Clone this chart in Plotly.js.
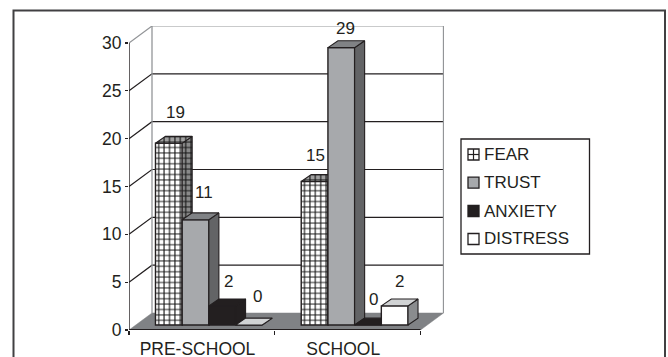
<!DOCTYPE html>
<html>
<head>
<meta charset="utf-8">
<script src="https://cdn.plot.ly/plotly-3.0.1.min.js"></script>
<style>html,body{margin:0;padding:0;background:#fff;overflow:hidden}</style>
</head>
<body>
<div id="chart" style="width:668px;height:357px"></div>
<script>
// Chart data
const categories = ["PRE-SCHOOL", "SCHOOL"];
const seriesNames = ["FEAR", "TRUST", "ANXIETY", "DISTRESS"];
const fear = [19, 15];
const trust = [11, 29];
const anxiety = [2, 0];
const distress = [0, 2];
const yTicks = [0, 5, 10, 15, 20, 25, 30];

// Label nudges in screen pixels, one row per series
const labelShiftX = [[7, 1], [8, 4], [6, 6], [9, 5]];
const labelShiftY = [[31, 26], [27, 19], [24, 26], [29, 24]];

// Look of each series: front, top and side faces
const looks = [
  {front: "#ffffff", top: "#a0a0a0", side: "#8a8a8a", pattern: true},
  {front: "#a7a9ac", top: "#808285", side: "#636466"},
  {front: "#231f20", top: "#231f20", side: "#231f20"},
  {front: "#ffffff", top: "#d1d3d4", side: "#8a8c8e"}
];
const ink = "#231f20";
const wallGrey = "#939598";
const floorGrey = "#808285";

// Scales: the chart is a box seen from the front-left
const pxPerCat = 145.75, pxPerUnit = 9.567;
const plot = {l: 129, r: 224, t: 26, b: 27};
const plotW = 668 - plot.l - plot.r, plotH = 357 - plot.t - plot.b;
const xRange = [-0.5, -0.5 + plotW / pxPerCat];
const yRange = [0, plotH / pxPerUnit];

const wallDx = 23 / pxPerCat, wallDy = 17 / pxPerUnit;   // depth of the floor
const barDx = 10 / pxPerCat, barDy = 6.9 / pxPerUnit;    // depth of a bar
const barLift = 0.52;                                    // bars stand in from the front edge
const barW = 26.7 / pxPerCat;
const groupStart = -46.4 / pxPerCat;

const traces = [];
const xEnd = 1.5, xStart = -0.5, yMax = yTicks[yTicks.length - 1];

function poly(xs, ys, color, width, fill, extra) {
  return Object.assign({
    type: "scatter", mode: "lines", x: xs, y: ys, xaxis: "x", yaxis: "y",
    line: {color: color, width: width}, fill: fill ? "toself" : "none", fillcolor: fill || undefined,
    hoverinfo: "skip", showlegend: false, cliponaxis: false
  }, extra || {});
}

// Floor
traces.push(poly(
  [xStart, xEnd, xEnd + wallDx, xStart + wallDx, xStart],
  [0, 0, wallDy, wallDy, 0], floorGrey, 0.5, floorGrey));

// Grid lines running along the side wall and then the back wall
yTicks.slice(1).forEach(v => {
  const c = v === yMax ? wallGrey : ink;
  traces.push(poly(
    [xStart, xStart + wallDx, xEnd + wallDx],
    [v, v + wallDy, v + wallDy], c, 1.2));
});

// Wall corners
[xStart + wallDx, xEnd + wallDx].forEach(x => {
  traces.push(poly([x, x], [wallDy, yMax + wallDy], wallGrey, 1.3));
});

// Front edges of the box
traces.push(poly([xStart, xStart], [0, yMax], ink, 1.4));
traces.push(poly([xStart, xEnd], [0, 0], ink, 2));

// One overlaid pair of axes per series keeps the nearer bars on top
const grid = bg => ({shape: "+", size: 5.4, solidity: 0.36, fgcolor: "#111111", bgcolor: bg, fillmode: "replace"});
[fear, trust, anxiety, distress].forEach((values, s) => {
  const look = looks[s];
  const ax = String(s + 2);
  const left = groupStart + s * barW;
  const bar = {
    type: "bar", name: seriesNames[s], x: [0, 1], y: values, base: barLift,
    width: barW, offset: left, xaxis: "x" + ax, yaxis: "y" + ax,
    showlegend: false, hoverinfo: "x+y",
    marker: {color: look.front, line: {color: ink, width: 1.4}}
  };
  if (look.pattern) bar.marker.pattern = grid("#ffffff");
  traces.push(bar);

  const topX = [], topY = [], sideX = [], sideY = [];
  values.forEach((v, c) => {
    const x0 = c + left, x1 = x0 + barW, y1 = v + barLift;
    topX.push(x0, x1, x1 + barDx, x0 + barDx, x0, null);
    topY.push(y1, y1, y1 + barDy, y1 + barDy, y1, null);
    sideX.push(x1, x1 + barDx, x1 + barDx, x1, x1, null);
    sideY.push(barLift, barLift + barDy, y1 + barDy, y1, barLift, null);
  });
  const sideExtra = {xaxis: "x" + ax, yaxis: "y" + ax};
  const topExtra = {xaxis: "x" + ax, yaxis: "y" + ax};
  if (look.pattern) {
    sideExtra.fillpattern = grid(look.side);
    topExtra.fillpattern = grid(look.top);
  }
  traces.push(poly(sideX, sideY, ink, 1.1, look.side, sideExtra));
  traces.push(poly(topX, topY, ink, 1.1, look.top, topExtra));
});

// Value labels
const annotations = [];
const labelFont = {family: "Liberation Sans, Arial, sans-serif", size: 17, color: ink};
[fear, trust, anxiety, distress].forEach((values, s) => {
  values.forEach((v, c) => {
    annotations.push({
      x: c + groupStart + s * barW + barW / 2, y: v + barLift, xref: "x", yref: "y",
      text: String(v), showarrow: false, xanchor: "center", yanchor: "middle",
      xshift: labelShiftX[s][c], yshift: labelShiftY[s][c], font: labelFont
    });
  });
});

// Key on the right, placed in page pixels
const px = x => (x - plot.l) / plotW;
const py = y => (plot.t + plotH - y) / plotH;
const shapes = [
  {type: "rect", xref: "paper", yref: "paper", x0: px(13.5), x1: px(665), y0: py(10.5), y1: py(370),
   line: {color: "#414042", width: 2}, fillcolor: "rgba(0,0,0,0)", layer: "below"},
  {type: "rect", xref: "paper", yref: "paper", x0: px(461), x1: px(589.5), y0: py(139), y1: py(254),
   line: {color: ink, width: 1.3}, fillcolor: "#ffffff", layer: "above"}
];
const keyRows = [154.5, 182.7, 211, 239];
seriesNames.forEach((name, s) => {
  const yc = keyRows[s];
  shapes.push({type: "rect", xref: "paper", yref: "paper", x0: px(468), x1: px(479), y0: py(yc + 5.5), y1: py(yc - 5.5),
    line: {color: ink, width: 1.3}, fillcolor: looks[s].front, layer: "above"});
  if (looks[s].pattern) {
    shapes.push({type: "line", xref: "paper", yref: "paper", x0: px(473.5), x1: px(473.5), y0: py(yc + 5.5), y1: py(yc - 5.5), line: {color: ink, width: 1.2}, layer: "above"});
    shapes.push({type: "line", xref: "paper", yref: "paper", x0: px(468), x1: px(479), y0: py(yc), y1: py(yc), line: {color: ink, width: 1.2}, layer: "above"});
  }
  annotations.push({xref: "paper", yref: "paper", x: px(483), y: py(yc), text: name, showarrow: false,
    xanchor: "left", yanchor: "middle", borderpad: 0,
    font: {family: "Liberation Sans, Arial, sans-serif", size: 17, color: ink}});
});

const tickFont = {family: "Liberation Sans, Arial, sans-serif", size: 17.5, color: ink};
const layout = {
  width: 668, height: 357, autosize: false,
  margin: {l: plot.l, r: plot.r, t: plot.t, b: plot.b, pad: 0},
  paper_bgcolor: "#ffffff", plot_bgcolor: "rgba(0,0,0,0)",
  barmode: "overlay", showlegend: false, shapes: shapes, annotations: annotations,
  xaxis: {type: "linear", range: xRange, tickmode: "array", tickvals: [-0.5, 0.5, 1.5], ticktext: ["", "", ""],
    ticks: "outside", ticklen: 4, tickwidth: 1.2, tickcolor: ink, showgrid: false, zeroline: false, showline: false},
  yaxis: {type: "linear", range: yRange, tickmode: "array", tickvals: yTicks, ticktext: yTicks.map(String),
    ticks: "outside", ticklen: 3, tickwidth: 1.2, tickcolor: ink, tickfont: tickFont,
    showgrid: false, zeroline: false, showline: false}
};
// Overlaid axes for the four series; the first also carries the category names
[2, 3, 4, 5].forEach(n => {
  layout["xaxis" + n] = {type: "linear", overlaying: "x", anchor: "y" + n, range: xRange, visible: n === 2,
    tickmode: "array", tickvals: [-0.03, 0.97], ticktext: categories, ticks: "outside", ticklen: 3,
    tickcolor: "rgba(0,0,0,0)", tickfont: tickFont,
    showgrid: false, zeroline: false, showline: false};
  layout["yaxis" + n] = {type: "linear", overlaying: "y", anchor: "x" + n, range: yRange, visible: false,
    showgrid: false, zeroline: false};
});

Plotly.newPlot("chart", traces, layout, {displayModeBar: false, staticPlot: true});
</script>
</body>
</html>
